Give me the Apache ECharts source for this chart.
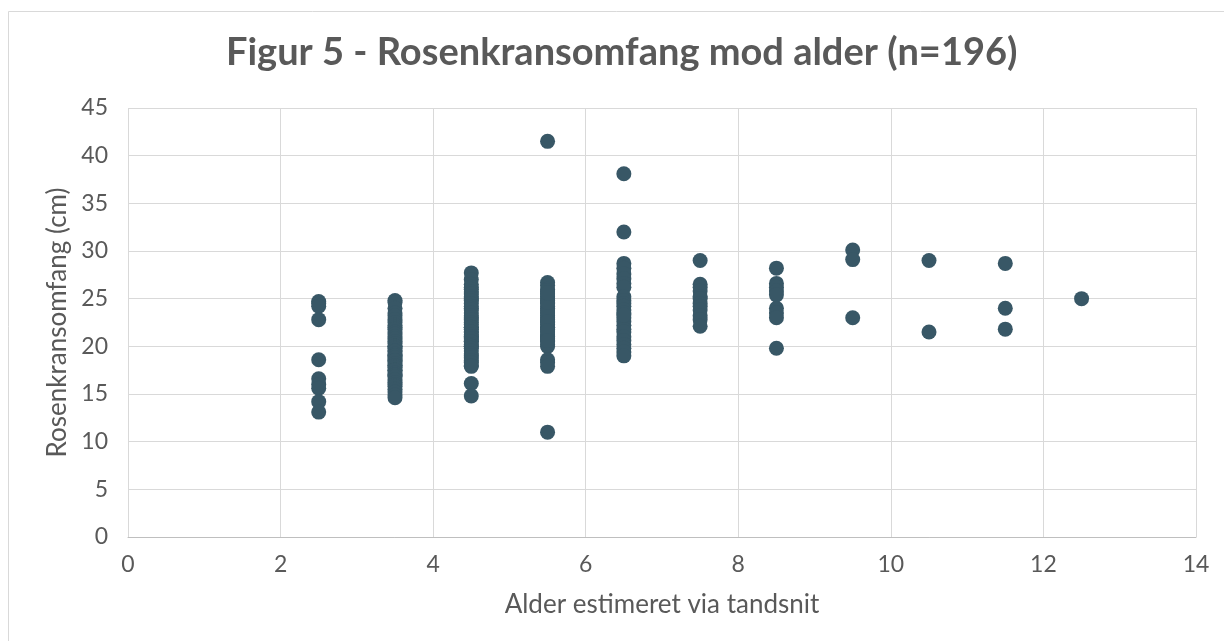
<!DOCTYPE html>
<html>
<head>
<meta charset="utf-8">
<script src="https://cdn.jsdelivr.net/npm/echarts@6/dist/echarts.min.js"></script>
<style>
html,body{margin:0;padding:0;background:#fff;}
#main{width:1224px;height:641px;}
</style>
</head>
<body>
<div id="main"></div>
<script>
// Estimated age groups (years, via tooth sections)
const ages = [2.5, 3.5, 4.5, 5.5, 6.5, 7.5, 8.5, 9.5, 10.5, 11.5, 12.5];
// Antler base circumference (cm) per age group
const circAge2_5 = [24.7, 24.5, 24.2, 22.8, 18.6, 16.6, 16.0, 15.6, 14.2, 13.1];
const circAge3_5 = [24.8, 24.6, 24.0, 23.5, 23.2, 22.8, 22.5, 22.2, 22.0, 21.8, 21.5, 21.3, 21.0, 20.8, 20.5, 20.3, 20.0, 20.0, 19.8, 19.5, 19.5, 19.2, 19.0, 19.0, 18.8, 18.5, 18.5, 18.2, 18.0, 18.0, 17.8, 17.5, 17.5, 17.2, 17.0, 17.0, 16.8, 16.5, 16.2, 16.0, 15.8, 15.5, 15.2, 14.9, 14.6];
const circAge4_5 = [27.7, 27.0, 26.5, 26.2, 26.0, 25.7, 25.5, 25.2, 25.0, 24.8, 24.5, 24.2, 24.0, 23.8, 23.5, 23.2, 23.0, 22.8, 22.5, 22.3, 22.0, 22.0, 21.8, 21.5, 21.5, 21.2, 21.0, 21.0, 20.8, 20.5, 20.5, 20.2, 20.0, 20.0, 19.8, 19.5, 19.2, 19.0, 18.8, 18.5, 18.3, 18.0, 17.9, 16.1, 14.8];
const circAge5_5 = [41.5, 26.7, 26.4, 26.0, 25.8, 25.5, 25.2, 25.0, 24.8, 24.5, 24.2, 24.0, 23.8, 23.5, 23.2, 23.0, 22.8, 22.5, 22.3, 22.0, 22.0, 21.8, 21.5, 21.2, 21.0, 21.0, 20.8, 20.5, 20.2, 20.0, 18.6, 18.3, 17.9, 11.0, 23.6, 22.6, 21.6, 20.6, 24.6, 25.6];
const circAge6_5 = [38.1, 32.0, 28.7, 28.2, 27.6, 27.1, 26.6, 26.2, 25.2, 24.8, 24.5, 24.2, 23.8, 23.5, 23.0, 22.6, 22.2, 21.8, 21.5, 21.0, 20.6, 20.2, 19.8, 19.4, 19.0, 23.3];
const circAge7_5 = [29.0, 26.5, 26.2, 25.8, 25.2, 25.0, 24.5, 24.2, 23.8, 23.2, 22.8, 22.1];
const circAge8_5 = [28.2, 26.6, 26.2, 25.8, 25.4, 24.0, 23.5, 23.0, 19.8];
const circAge9_5 = [30.1, 29.1, 23.0];
const circAge10_5 = [29.0, 21.5];
const circAge11_5 = [28.7, 24.0, 21.8];
const circAge12_5 = [25.0];

const groups = [circAge2_5, circAge3_5, circAge4_5, circAge5_5, circAge6_5, circAge7_5, circAge8_5, circAge9_5, circAge10_5, circAge11_5, circAge12_5];
const points = [];
ages.forEach((a, i) => groups[i].forEach(v => points.push([a, v])));

const textColor = '#595959';
const fontFam = 'Lato';
const chart = echarts.init(document.getElementById('main'), null, {renderer: 'canvas'});
chart.setOption({
  backgroundColor: '#ffffff',
  animation: false,
  title: {
    text: 'Figur 5 - Rosenkransomfang mod alder (n=196)',
    left: 226,
    top: 33,
    padding: 0,
    textStyle: {fontFamily: fontFam, fontWeight: 'bold', fontSize: 38, lineHeight: 40, color: textColor}
  },
  graphic: [{
    type: 'rect',
    shape: {x: 8.5, y: 11.5, width: 1260, height: 700},
    style: {fill: 'none', stroke: '#d9d9d9', lineWidth: 1},
    silent: true
  }],
  grid: {left: 128, right: 28, top: 108, bottom: 104},
  xAxis: {
    type: 'value', min: 0, max: 14, interval: 2,
    name: 'Alder estimeret via tandsnit',
    nameLocation: 'middle', nameGap: 55,
    nameTextStyle: {fontFamily: fontFam, fontSize: 26, color: textColor},
    axisLine: {show: true, lineStyle: {color: '#bfbfbf', width: 1}},
    axisTick: {show: false},
    axisLabel: {fontFamily: fontFam, fontSize: 23, color: textColor, margin: 16},
    splitLine: {show: true, lineStyle: {color: '#d9d9d9', width: 1}}
  },
  yAxis: {
    type: 'value', min: 0, max: 45, interval: 5,
    name: 'Rosenkransomfang (cm)',
    nameLocation: 'middle', nameGap: 55,
    nameTextStyle: {fontFamily: fontFam, fontSize: 26, color: textColor},
    axisLine: {show: false},
    axisTick: {show: false},
    axisLabel: {fontFamily: fontFam, fontSize: 23, color: textColor, margin: 20},
    splitLine: {show: true, lineStyle: {color: '#d9d9d9', width: 1}}
  },
  series: [{
    type: 'scatter',
    data: points,
    symbol: 'circle',
    symbolSize: 15,
    itemStyle: {color: '#385766', opacity: 1}
  }]
});
</script>
</body>
</html>
